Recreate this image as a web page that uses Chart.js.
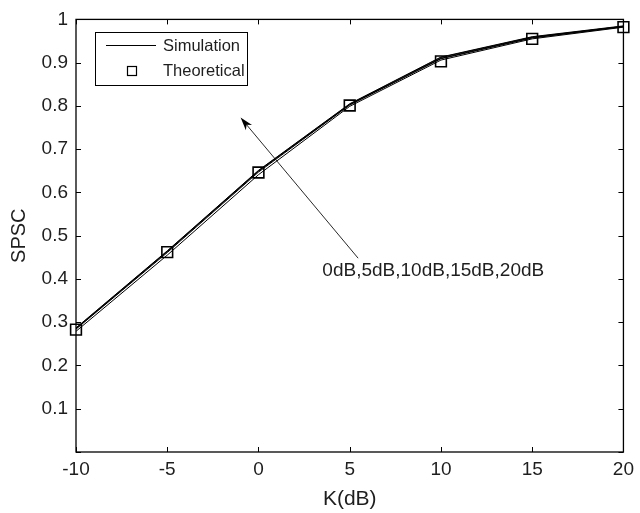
<!DOCTYPE html>
<html>
<head>
<meta charset="utf-8">
<script src="https://cdn.jsdelivr.net/npm/chart.js@4/dist/chart.umd.min.js"></script>
<style>
  html, body { margin: 0; padding: 0; background: #fff; }
  canvas { display: block; }
</style>
</head>
<body>
<canvas id="spsc" width="640" height="513"></canvas>
<script>
// Rician factor K in dB
const kDb = [-10, -5, 0, 5, 10, 15, 20];

// Simulated SPSC, one curve per average SNR
const sim0dB  = [0.279, 0.455, 0.641, 0.799, 0.906, 0.955, 0.982];
const sim5dB  = [0.284, 0.461, 0.647, 0.802, 0.909, 0.957, 0.983];
const sim10dB = [0.285, 0.463, 0.649, 0.803, 0.910, 0.958, 0.984];
const sim15dB = [0.286, 0.464, 0.650, 0.804, 0.912, 0.959, 0.984];
const sim20dB = [0.287, 0.465, 0.651, 0.805, 0.913, 0.960, 0.985];
const simSeries = [sim0dB, sim5dB, sim10dB, sim15dB, sim20dB];
const simNames = ['0dB', '5dB', '10dB', '15dB', '20dB'];

// Closed-form SPSC
const theoretical = [0.283, 0.462, 0.646, 0.801, 0.903, 0.955, 0.982];

// Axis ticks
const xTickValues = [-10, -5, 0, 5, 10, 15, 20];
const xTickLabels = ['-10', '-5', '0', '5', '10', '15', '20'];
const yTickValues = [0, 0.1, 0.2, 0.3, 0.4, 0.5, 0.6, 0.7, 0.8, 0.9, 1];
const yTickLabels = ['', '0.1', '0.2', '0.3', '0.4', '0.5', '0.6', '0.7', '0.8', '0.9', '1'];

const legendLabels = ['Simulation', 'Theoretical'];
const annotationText = simNames.join(',');

const FONT = '"Liberation Sans", Arial, Helvetica, sans-serif';
const INK = '#1e1e1e';

const toPoints = ys => kDb.map((k, i) => ({ x: k, y: ys[i] }));

const datasets = simSeries.map((ys, i) => ({
  label: 'Simulation ' + simNames[i],
  data: toPoints(ys),
  borderColor: '#000',
  borderWidth: 1,
  pointRadius: 0,
  fill: false,
  tension: 0,
  clip: false
}));
datasets.push({
  label: 'Theoretical',
  data: toPoints(theoretical),
  showLine: false,
  pointStyle: 'rect',
  pointRadius: 7.6,
  pointBorderWidth: 1.6,
  pointBorderColor: '#000',
  pointBackgroundColor: 'rgba(0,0,0,0)',
  clip: false
});

// Box around the axes with inward tick marks on all four sides
const axesBox = {
  id: 'axesBox',
  beforeDatasetsDraw(chart) {
    const { ctx, chartArea: a, scales: { x, y } } = chart;
    ctx.save();
    ctx.strokeStyle = '#000';
    ctx.lineWidth = 1.3;
    ctx.strokeRect(a.left, a.top, a.right - a.left, a.bottom - a.top);
    ctx.lineWidth = 1;
    const len = 5;
    ctx.beginPath();
    xTickValues.forEach(v => {
      const px = Math.round(x.getPixelForValue(v)) + 0.5;
      ctx.moveTo(px, a.bottom); ctx.lineTo(px, a.bottom - len);
      ctx.moveTo(px, a.top); ctx.lineTo(px, a.top + len);
    });
    yTickValues.forEach(v => {
      const py = Math.round(y.getPixelForValue(v)) + 0.5;
      ctx.moveTo(a.left, py); ctx.lineTo(a.left + len, py);
      ctx.moveTo(a.right, py); ctx.lineTo(a.right - len, py);
    });
    ctx.stroke();
    ctx.restore();
  }
};

// Legend box and the arrow annotation
const overlay = {
  id: 'overlay',
  afterDraw(chart) {
    const { ctx, scales: { x, y } } = chart;
    ctx.save();

    // legend
    const bx = 95.5, by = 32.5, bw = 152, bh = 53;
    ctx.fillStyle = '#fff';
    ctx.fillRect(bx, by, bw, bh);
    ctx.strokeStyle = '#000';
    ctx.lineWidth = 1;
    ctx.strokeRect(bx, by, bw, bh);
    ctx.beginPath();
    ctx.moveTo(106, 45.5); ctx.lineTo(156, 45.5);
    ctx.stroke();
    ctx.lineWidth = 1.2;
    ctx.strokeRect(127.5, 66.5, 9, 9);
    ctx.fillStyle = INK;
    ctx.font = '16.5px ' + FONT;
    ctx.textAlign = 'left';
    ctx.textBaseline = 'middle';
    ctx.fillText(legendLabels[0], 163, 46);
    ctx.fillText(legendLabels[1], 163, 71.5);

    // arrow from the label toward increasing SNR
    const tx = x.getPixelForValue(5.46), ty = y.getPixelForValue(0.448);
    const hx = x.getPixelForValue(-0.98), hy = y.getPixelForValue(0.773);
    const dx = hx - tx, dy = hy - ty, d = Math.hypot(dx, dy);
    const ux = dx / d, uy = dy / d, nx = -uy, ny = ux;
    const L = 13, W = 4;
    ctx.strokeStyle = '#111';
    ctx.lineWidth = 0.9;
    ctx.beginPath();
    ctx.moveTo(tx, ty);
    ctx.lineTo(hx - ux * L * 0.7, hy - uy * L * 0.7);
    ctx.stroke();
    ctx.fillStyle = '#000';
    ctx.beginPath();
    ctx.moveTo(hx, hy);
    ctx.lineTo(hx - ux * L + nx * W, hy - uy * L + ny * W);
    ctx.lineTo(hx - ux * L * 0.72, hy - uy * L * 0.72);
    ctx.lineTo(hx - ux * L - nx * W, hy - uy * L - ny * W);
    ctx.closePath();
    ctx.fill();

    ctx.fillStyle = INK;
    ctx.font = '19px ' + FONT;
    ctx.textAlign = 'left';
    ctx.textBaseline = 'middle';
    ctx.fillText(annotationText, x.getPixelForValue(3.5), y.getPixelForValue(0.42));
    ctx.restore();
  }
};

new Chart(document.getElementById('spsc'), {
  type: 'line',
  data: { datasets },
  options: {
    responsive: false,
    animation: false,
    devicePixelRatio: 1,
    layout: { padding: { top: 16, right: 13, left: 0, bottom: 0 } },
    plugins: { legend: { display: false }, tooltip: { enabled: false } },
    scales: {
      x: {
        type: 'linear',
        min: -10, max: 20,
        grid: { display: false, drawTicks: false },
        border: { display: false },
        afterBuildTicks: s => { s.ticks = xTickValues.map(v => ({ value: v })); },
        afterFit: s => { s.height = 61; },
        ticks: {
          padding: 6,
          color: INK,
          font: { family: FONT, size: 19 },
          maxRotation: 0,
          callback: (v) => xTickLabels[xTickValues.indexOf(v)]
        },
        title: {
          display: true,
          text: 'K(dB)',
          color: INK,
          font: { family: FONT, size: 21 },
          padding: { top: 0, bottom: 1 }
        }
      },
      y: {
        type: 'linear',
        min: 0, max: 1,
        grid: { display: false, drawTicks: false },
        border: { display: false },
        afterBuildTicks: s => { s.ticks = yTickValues.map(v => ({ value: v })); },
        afterFit: s => { s.width = 76; },
        ticks: {
          padding: 8,
          color: INK,
          font: { family: FONT, size: 19 },
          callback: (v) => yTickLabels[yTickValues.indexOf(v)]
        },
        title: {
          display: true,
          text: 'SPSC',
          color: INK,
          font: { family: FONT, size: 20 },
          padding: { top: 7, bottom: 0 }
        }
      }
    }
  },
  plugins: [axesBox, overlay]
});
</script>
</body>
</html>
